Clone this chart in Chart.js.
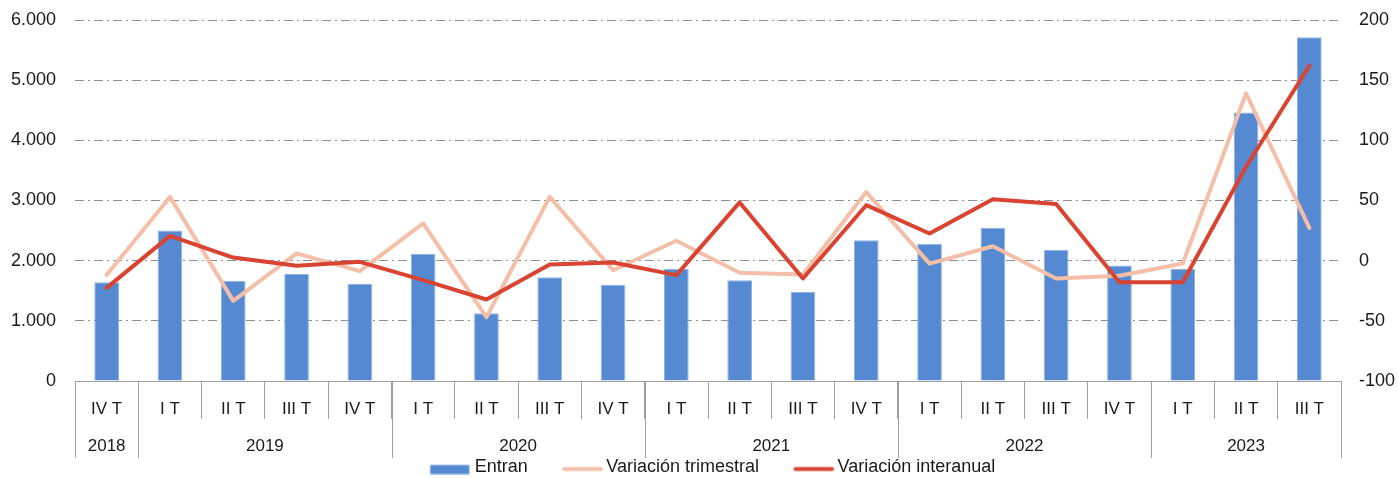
<!DOCTYPE html>
<html><head><meta charset="utf-8">
<script src="https://cdn.jsdelivr.net/npm/chart.js@4.4.0/dist/chart.umd.min.js"></script>
<style>html,body{margin:0;padding:0;background:#fff;}#wrap{width:1399px;height:478px;}</style>
</head><body><div id="wrap"><canvas id="c" width="1399" height="478"></canvas></div>
<script>
const quarters = ['IV T','I T','II T','III T','IV T','I T','II T','III T','IV T','I T','II T','III T','IV T','I T','II T','III T','IV T','I T','II T','III T'];
const years = ['2018','2019','2019','2019','2019','2020','2020','2020','2020','2021','2021','2021','2021','2022','2022','2022','2022','2023','2023','2023'];
const entran = [1640,2500,1667,1780,1614,2113,1126,1725,1597,1864,1675,1481,2341,2280,2541,2180,1919,1864,4464,5712];
const varTrimestral = [-12,53,-33.4,6,-8.7,31,-47,53,-8,16.5,-10,-11.5,57,-2.5,12,-14.8,-12.6,-2.3,139,27.3];
const varInteranual = [-22.6,20.6,2.6,-4.3,-1,-16.2,-32.3,-3.2,-1.5,-12,48.4,-14.8,46.1,22.6,51.1,47,-18,-18,78,162];
const leftTicks = [0,1000,2000,3000,4000,5000,6000];
const rightTicks = [-100,-50,0,50,100,150,200];
const seriesNames = ['Entran','Variación trimestral','Variación interanual'];

const FONT = "'Liberation Sans', Arial, sans-serif";
const TXT = '#1a1a1a';
const AXIS = '#a0a0a0';
const C_BAR = '#558AD2', C_TRI = '#F4BFA8', C_INT = '#D94331';

function fmt(v){ return String(v).replace(/\B(?=(\d{3})+(?!\d))/g,'.'); }

// legend symbols (canvas centred on the legend box; box width 56)
function icon(kind, color){
  const cv = document.createElement('canvas'); cv.width = 72; cv.height = 14;
  const g = cv.getContext('2d');
  if (kind === 'rect'){ g.fillStyle = color; g.fillRect(28.5, 4.5, 39, 9); }
  else { g.strokeStyle = color; g.lineWidth = 4; g.lineCap = 'round'; g.beginPath(); g.moveTo(31, 8.5); g.lineTo(67.5, 8.5); g.stroke(); }
  return cv;
}
const icons = [icon('rect', C_BAR), icon('line', C_TRI), icon('line', C_INT)];

const yearAxis = {
  id: 'yearAxis',
  afterLayout(chart){
    const lg = chart.legend; lg.top += 8.5; lg.bottom += 8.5; lg.left += 3; lg.right += 3;
  },
  afterDraw(chart){
    const x = chart.scales.x, ctx = chart.ctx, top = chart.chartArea.bottom;
    const half = (x.getPixelForValue(1) - x.getPixelForValue(0)) / 2;
    const groups = [];
    years.forEach((y, i) => {
      const g = groups[groups.length - 1];
      if (!g || g.y !== y) groups.push({y, s: i, e: i}); else g.e = i;
    });
    ctx.save();
    ctx.strokeStyle = AXIS; ctx.lineWidth = 1;
    ctx.fillStyle = TXT; ctx.font = '17px ' + FONT; ctx.textAlign = 'center'; ctx.textBaseline = 'middle';
    groups.forEach(g => {
      const l = x.getPixelForValue(g.s) - half, r = x.getPixelForValue(g.e) + half;
      [l, r].forEach(px => { const xx = Math.round(px) + 0.5; ctx.beginPath(); ctx.moveTo(xx, top); ctx.lineTo(xx, top + 77); ctx.stroke(); });
      ctx.fillText(g.y, (l + r) / 2, top + 65);
    });
    ctx.restore();
  }
};

new Chart(document.getElementById('c'), {
  data: {
    labels: quarters,
    datasets: [
      { type: 'bar', label: seriesNames[0], data: entran, yAxisID: 'y', backgroundColor: C_BAR, borderColor: '#8DB2E6', borderWidth: 1, categoryPercentage: 1, barPercentage: 0.39, order: 3 },
      { type: 'line', label: seriesNames[1], data: varTrimestral, yAxisID: 'y1', borderColor: C_TRI, backgroundColor: C_TRI, borderWidth: 4, pointRadius: 0, tension: 0, borderJoinStyle: 'round', borderCapStyle: 'round', order: 2 },
      { type: 'line', label: seriesNames[2], data: varInteranual, yAxisID: 'y1', borderColor: C_INT, backgroundColor: C_INT, borderWidth: 4, pointRadius: 0, tension: 0, borderJoinStyle: 'round', borderCapStyle: 'round', order: 1 }
    ]
  },
  options: {
    responsive: false, animation: false, devicePixelRatio: 1,
    layout: { padding: { top: 20, left: 0, right: 0, bottom: 0 } },
    plugins: {
      tooltip: { enabled: false },
      legend: {
        position: 'bottom',
        labels: {
          usePointStyle: true, pointStyleWidth: 56, padding: 13.5, color: TXT,
          font: { family: FONT, size: 18 },
          sort: (a, b) => a.datasetIndex - b.datasetIndex,
          generateLabels(chart){
            const items = Chart.defaults.plugins.legend.labels.generateLabels(chart);
            items.forEach(it => { it.pointStyle = icons[it.datasetIndex]; });
            return items;
          }
        }
      }
    },
    scales: {
      x: {
        offset: true,
        grid: { display: true, offset: true, drawOnChartArea: false, drawTicks: true, tickLength: 38, color: AXIS, tickColor: AXIS },
        border: { display: true, color: AXIS, width: 1 },
        ticks: { color: TXT, font: { family: FONT, size: 17 }, padding: -20, maxRotation: 0, autoSkip: false },
        afterFit(s){ s.height = 55.5; }
      },
      y: {
        position: 'left', min: 0, max: 6000,
        afterBuildTicks(s){ s.ticks = leftTicks.map(v => ({ value: v })); },
        ticks: { color: TXT, font: { family: FONT, size: 18 }, padding: 19, callback: v => fmt(v) },
        grid: { drawTicks: false, color: c => (c.tick && c.tick.value === 0) ? 'rgba(0,0,0,0)' : '#8f8f8f', lineWidth: 1 },
        border: { display: false, dash: [9, 4, 2, 4] },
        afterFit(s){ s.width = 75; s.paddingTop = 0; s.paddingBottom = 0; }
      },
      y1: {
        position: 'right', min: -100, max: 200,
        afterBuildTicks(s){ s.ticks = rightTicks.map(v => ({ value: v })); },
        ticks: { color: TXT, font: { family: FONT, size: 18 }, padding: 18 },
        grid: { drawOnChartArea: false, drawTicks: false },
        border: { display: false },
        afterFit(s){ s.width = 58; s.paddingTop = 0; s.paddingBottom = 0; }
      }
    }
  },
  plugins: [yearAxis]
});
</script></body></html>
